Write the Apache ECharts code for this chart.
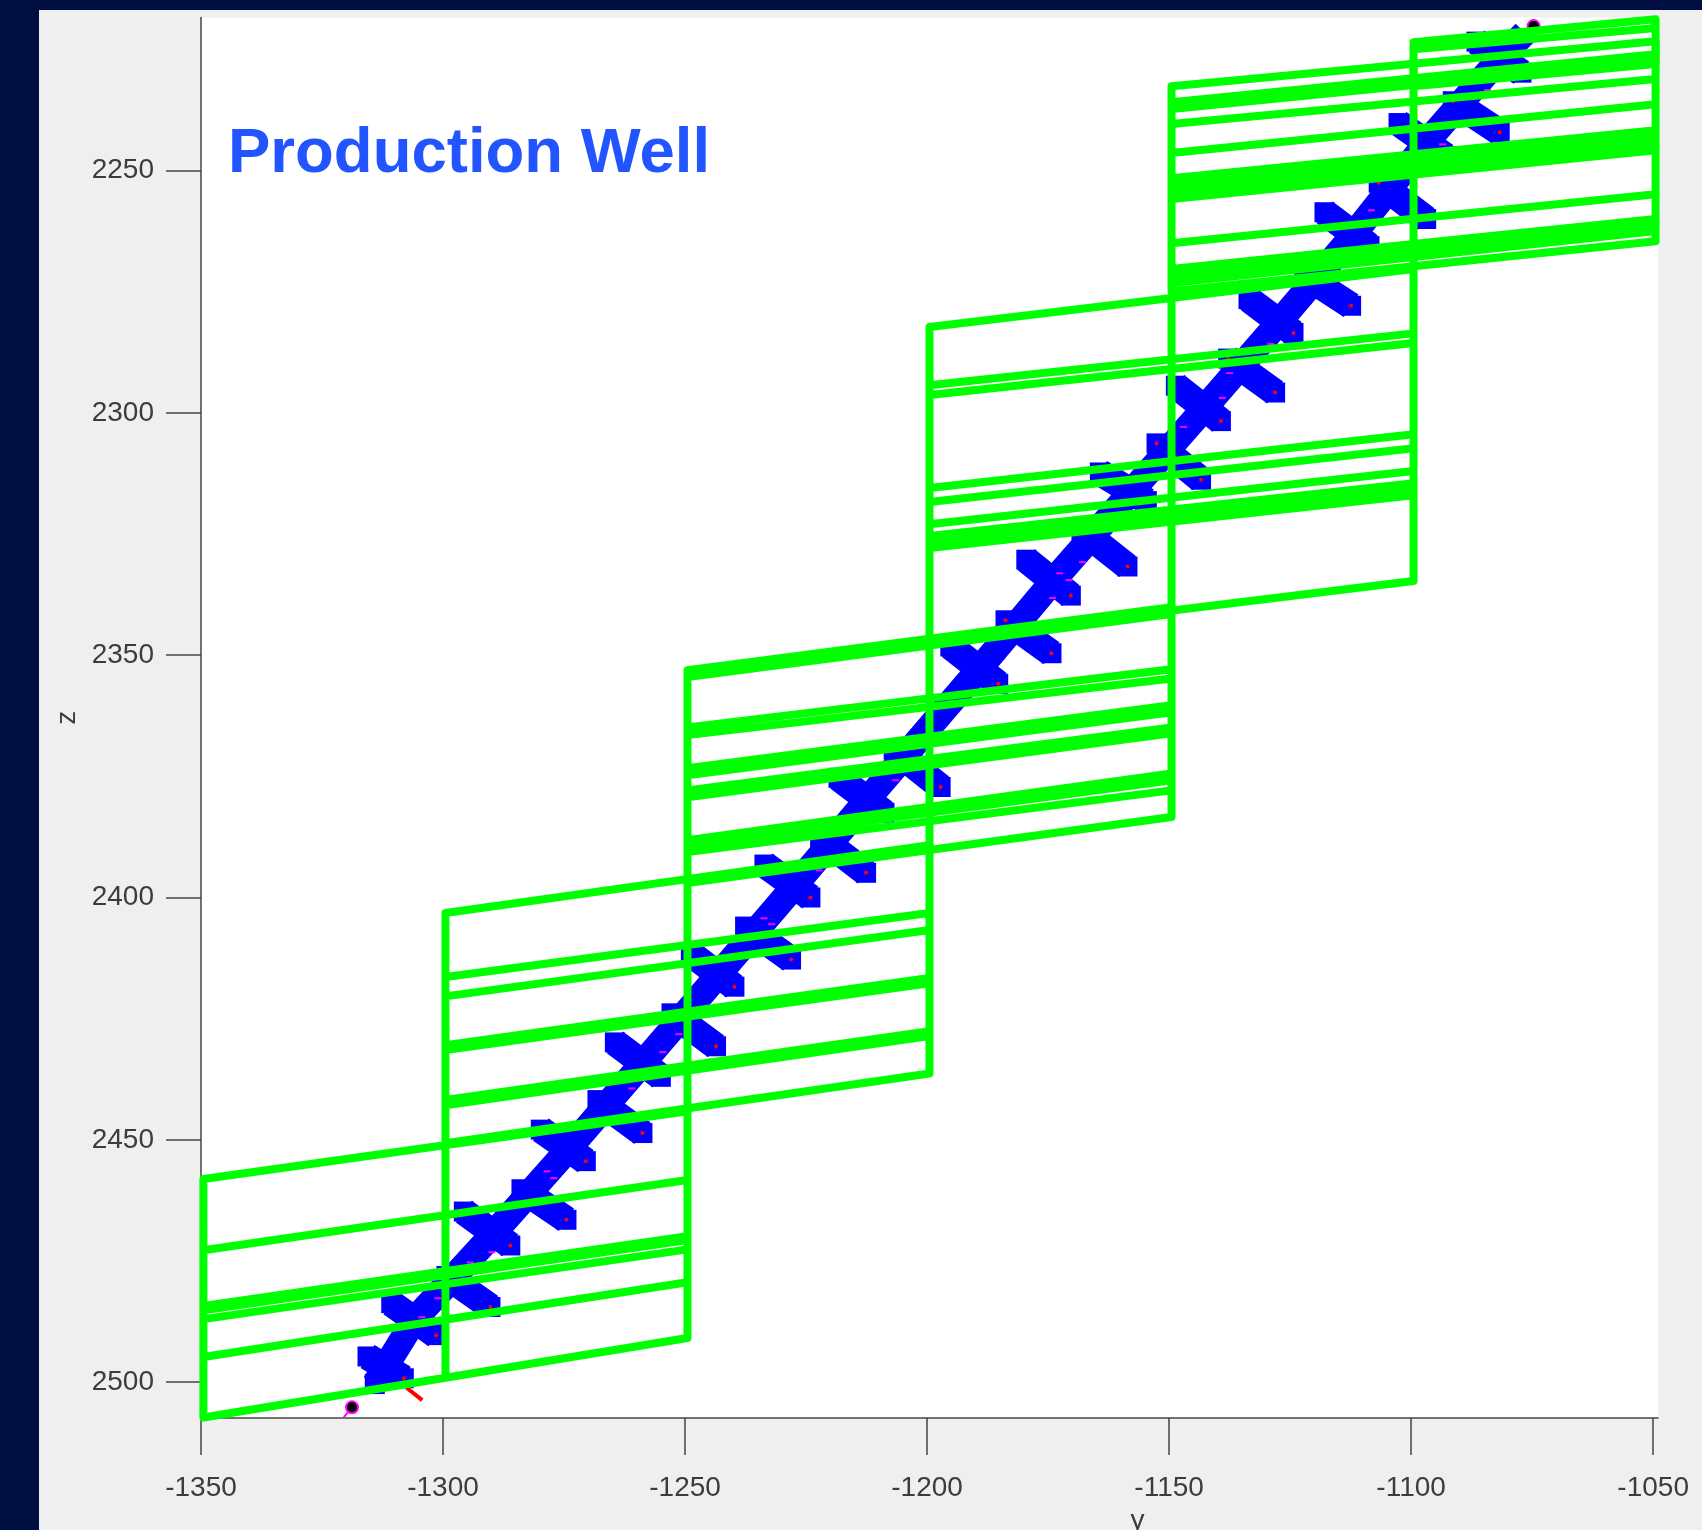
<!DOCTYPE html>
<html>
<head>
<meta charset="utf-8">
<title>Production Well</title>
<script src="https://cdn.jsdelivr.net/npm/echarts@6/dist/echarts.min.js"></script>
<style>
  html, body { margin: 0; height: 100%; background: #000f42; overflow: hidden; }
  #panel { position: absolute; left: 39px; top: 10px; right: 0; bottom: 0; background: #efefef; }
  #main { position: absolute; left: 0; top: 0; width: 1702px; height: 1530px; }
</style>
</head>
<body>
<div id="panel"></div>
<div id="main"></div>
<script>
// Tick labels
const yTicks = [-1350, -1300, -1250, -1200, -1150, -1100, -1050];
const zTicks = [2250, 2300, 2350, 2400, 2450, 2500];

// Well path (y, z)
const wellY = [-1314.1, -1305.8, -1289.9, -1274.4, -1258.5, -1243.5, -1227.8, -1212.1, -1189.0, -1174.0, -1158.3, -1143.1, -1127.4, -1112.3, -1096.7, -1080.9, -1076.5];
const wellZ = [2500.4, 2487.0, 2469.7, 2452.3, 2433.9, 2416.4, 2398.1, 2379.5, 2352.6, 2334.7, 2316.8, 2299.5, 2281.4, 2263.7, 2244.0, 2226.0, 2221.6];

// Perforation strokes, upper left end and lower right end
const armStartY = [-1315.6, -1310.7, -1299.3, -1295.7, -1283.8, -1279.8, -1268.1, -1264.5, -1252.8, -1248.8, -1237.6, -1233.6, -1222.1, -1218.3, -1206.9, -1195.2, -1183.8, -1179.5, -1168.1, -1164.3, -1152.6, -1148.6, -1137.8, -1133.6, -1122.1, -1117.9, -1106.7, -1102.6, -1091.4, -1086.5];
const armStartZ = [2494.7, 2483.7, 2478.1, 2464.8, 2460.2, 2447.9, 2441.8, 2429.9, 2423.9, 2411.6, 2406.0, 2393.2, 2387.6, 2375.3, 2369.5, 2348.2, 2342.8, 2330.3, 2324.2, 2312.3, 2306.3, 2294.4, 2288.8, 2276.5, 2271.6, 2258.6, 2252.5, 2240.2, 2235.7, 2223.4];
const armEndY = [-1308.1, -1301.4, -1290.2, -1286.1, -1274.5, -1270.5, -1258.8, -1255.0, -1243.6, -1239.8, -1228.1, -1224.1, -1212.6, -1208.8, -1197.2, -1185.3, -1174.3, -1170.3, -1158.6, -1154.6, -1143.4, -1139.3, -1128.1, -1124.3, -1112.4, -1108.6, -1096.9, -1092.9, -1081.7, -1077.2];
const armEndZ = [2499.2, 2490.3, 2484.5, 2471.8, 2466.5, 2454.4, 2448.6, 2437.0, 2430.7, 2418.4, 2412.8, 2400.0, 2394.9, 2382.5, 2377.2, 2355.9, 2349.6, 2337.7, 2331.7, 2318.2, 2313.8, 2301.7, 2295.8, 2283.5, 2277.9, 2265.6, 2260.0, 2247.0, 2242.1, 2229.8];

// Small magenta dashes on the well
const dashY = [-1232.1, -1251.3, -1254.6, -1261.0, -1277.1, -1278.5, -1139.0, -1147.0, -1129.0, -1172.6, -1170.7, -1174.1, -1167.9, -1194.9, -1233.7, -1224.0, -1222.3, -1206.5, -1289.9, -1294.4, -1301.1, -1304.4, -1137.5, -1108.2, -1093.5, -1084.2];
const dashZ = [2405.5, 2428.2, 2431.9, 2439.4, 2457.9, 2456.5, 2296.9, 2302.9, 2285.8, 2333.1, 2334.5, 2338.2, 2330.8, 2359.5, 2404.3, 2392.9, 2394.4, 2375.8, 2473.2, 2475.3, 2482.7, 2486.6, 2291.8, 2258.2, 2244.6, 2233.4];

// Well ends
const endY = [-1318.8, -1074.7];
const endZ = [2505.2, 2220.2];
const tailY = [-1307.6, -1304.3];
const tailZ = [2501.1, 2503.7];
const lowerTailY = [-1318.8, -1320.5];
const lowerTailZ = [2505.2, 2507.2];

// Fracture planes: edges in y, then z of each line at the left and right edge.
// The first and last entry of each z list are the top and bottom of the box.
const boxLeft = [-1349.5, -1299.5, -1249.5, -1199.5, -1149.5, -1099.5];
const boxMid = [-1299.5, -1249.5, -1199.5, -1149.5, -1099.5, null];
const boxRight = [-1249.5, -1199.5, -1149.5, -1099.5, -1049.5, -1049.5];
const boxMidTop = [2451.1, 2396.2, 2347.0, 2276.3, 2228.0, null];
const boxMidBottom = [2499.1, 2443.5, 2390.2, 2340.8, 2269.8, null];

const boxAZLeft = [2458.1, 2472.8, 2484.3, 2485.2, 2487.0, 2494.8, 2507.3];
const boxAZRight = [2444.1, 2458.3, 2469.9, 2470.7, 2472.6, 2479.4, 2490.9];
const boxBZLeft = [2403.2, 2416.4, 2420.4, 2430.5, 2431.5, 2441.8, 2442.9, 2450.7];
const boxBZRight = [2389.2, 2403.2, 2406.7, 2416.6, 2417.7, 2427.6, 2428.6, 2436.3];
const boxCZLeft = [2353.1, 2354.5, 2364.9, 2366.5, 2373.3, 2374.8, 2377.9, 2379.3, 2388.2, 2389.2, 2390.6, 2397.0];
const boxCZRight = [2340.1, 2341.5, 2352.9, 2354.8, 2360.3, 2361.8, 2364.9, 2366.1, 2374.4, 2375.8, 2377.9, 2383.4];
const boxDZLeft = [2282.3, 2294.3, 2296.3, 2315.5, 2318.4, 2323.0, 2325.4, 2326.7, 2327.9, 2346.9];
const boxDZRight = [2270.3, 2283.6, 2285.6, 2304.4, 2307.3, 2312.0, 2314.5, 2315.7, 2317.0, 2334.7];
const boxEZLeft = [2232.6, 2235.9, 2237.3, 2240.4, 2246.4, 2251.6, 2253.0, 2254.5, 2255.9, 2265.0, 2270.3, 2271.8, 2273.2, 2274.9];
const boxEZRight = [2223.3, 2226.0, 2227.4, 2231.1, 2236.3, 2241.7, 2242.9, 2244.3, 2245.8, 2254.9, 2260.0, 2261.3, 2262.5, 2264.6];
const boxFZLeft = [2223.5, 2225.0, 2232.6];
const boxFZRight = [2218.8, 2220.6, 2228.0];

const boxZLeft = [boxAZLeft, boxBZLeft, boxCZLeft, boxDZLeft, boxEZLeft, boxFZLeft];
const boxZRight = [boxAZRight, boxBZRight, boxCZRight, boxDZRight, boxEZRight, boxFZRight];

const zipPoints = (xs, ys) => xs.map((x, i) => [x, ys[i]]);

// One series per box, the lines are split with null points
const boxSeries = boxLeft.map((left, b) => {
  const right = boxRight[b];
  const zl = boxZLeft[b];
  const zr = boxZRight[b];
  const last = zl.length - 1;
  const gap = [null, null];
  const points = [
    [left, zl[last]], [left, zl[0]], [right, zr[0]], [right, zr[last]], [left, zl[last]], gap,
  ];
  for (let i = 1; i < last; i++) {
    points.push([left, zl[i]], [right, zr[i]], gap);
  }
  if (boxMid[b] !== null) {
    points.push([boxMid[b], boxMidTop[b]], [boxMid[b], boxMidBottom[b]]);
  }
  return {
    type: "line",
    data: points,
    showSymbol: false,
    clip: false,
    z: 10,
    lineStyle: { color: "#00ff00", width: 8, join: "round", cap: "round" },
  };
});

const armPoints = [];
armStartY.forEach((y, i) => {
  armPoints.push([y, armStartZ[i]], [armEndY[i], armEndZ[i]], [null, null]);
});

// The strokes end in square blocks in the reference
const armBlocks = zipPoints(armStartY, armStartZ)
  .concat(zipPoints(armEndY, armEndZ))
  .concat([[wellY[0], wellZ[0]]]);

const redPoints = zipPoints(armEndY, armEndZ).concat(
  zipPoints(armStartY, armStartZ).filter((p, i) => i % 2 === 0 && i > 12)
);

const axisColor = "#454545";
const labelStyle = {
  color: "#3c3c3c",
  fontSize: 28,
  fontFamily: "Liberation Sans",
  formatter: (v) => String(v),
};

const chartConfig = {
  animation: false,
  backgroundColor: "transparent",
  title: {
    text: "Production Well",
    left: 223,
    top: 117,
    textStyle: {
      color: "#2255ff",
      fontSize: 63.5,
      fontWeight: "bold",
      fontFamily: "Liberation Sans",
    },
  },
  grid: {
    show: true,
    left: 201,
    top: 17.4,
    width: 1457,
    height: 1400.6,
    outerBoundsMode: "none",
    backgroundColor: "#ffffff",
    borderWidth: 0,
  },
  xAxis: {
    type: "value",
    min: -1350,
    max: -1049,
    name: "y",
    nameLocation: "middle",
    nameGap: 88,
    nameTextStyle: {
      color: "#3c3c3c",
      fontSize: 28,
      fontFamily: "Liberation Sans",
      padding: [0, 0, 0, 416],
    },
    splitLine: { show: false },
    axisLine: { show: true, onZero: false, lineStyle: { color: axisColor, width: 1.5 } },
    axisTick: { show: true, length: 37, customValues: yTicks, lineStyle: { color: axisColor, width: 1.5 } },
    axisLabel: { ...labelStyle, margin: 56, customValues: yTicks },
  },
  yAxis: {
    type: "value",
    inverse: true,
    min: 2218.4,
    max: 2507.4,
    name: "z",
    nameLocation: "middle",
    nameGap: 120,
    nameTextStyle: { color: "#3c3c3c", fontSize: 28, fontFamily: "Liberation Sans" },
    splitLine: { show: false },
    axisLine: { show: true, onZero: false, lineStyle: { color: axisColor, width: 1.5 } },
    axisTick: { show: true, length: 35, customValues: zTicks, lineStyle: { color: axisColor, width: 1.5 } },
    axisLabel: { ...labelStyle, margin: 47, padding: [4, 0, 0, 0], customValues: zTicks },
  },
  series: [
    {
      type: "line",
      data: armPoints,
      showSymbol: false,
      z: 2,
      lineStyle: { color: "#0000ff", width: 27, cap: "butt", join: "round" },
    },
    {
      type: "scatter",
      data: armBlocks,
      symbol: "rect",
      symbolSize: 20,
      z: 2,
      itemStyle: { color: "#0000ff", opacity: 1 },
    },
    {
      type: "line",
      data: zipPoints(wellY, wellZ),
      showSymbol: false,
      z: 2,
      lineStyle: { color: "#0000ff", width: 26, cap: "butt", join: "round" },
    },
    {
      type: "scatter",
      data: redPoints,
      symbolSize: 4,
      z: 3,
      itemStyle: { color: "#ff0000", opacity: 1 },
    },
    {
      type: "scatter",
      data: zipPoints(dashY, dashZ),
      symbol: "rect",
      symbolSize: [7, 2],
      z: 3,
      itemStyle: { color: "#ff00ff", opacity: 1 },
    },
    {
      type: "line",
      data: zipPoints(tailY, tailZ),
      showSymbol: false,
      z: 3,
      lineStyle: { color: "#ff0000", width: 4 },
    },
    {
      type: "line",
      data: zipPoints(lowerTailY, lowerTailZ),
      showSymbol: false,
      clip: false,
      z: 3,
      lineStyle: { color: "#ff00ff", width: 2 },
    },
    {
      type: "scatter",
      data: zipPoints(endY, endZ),
      symbolSize: 12,
      clip: false,
      z: 4,
      itemStyle: { color: "#000000", borderColor: "#ff00ff", borderWidth: 2, opacity: 1 },
    },
    ...boxSeries,
  ],
};

const chart = echarts.init(document.getElementById("main"), null, { renderer: "canvas" });
chart.setOption(chartConfig);
window.addEventListener("resize", () => chart.resize());
</script>
</body>
</html>
